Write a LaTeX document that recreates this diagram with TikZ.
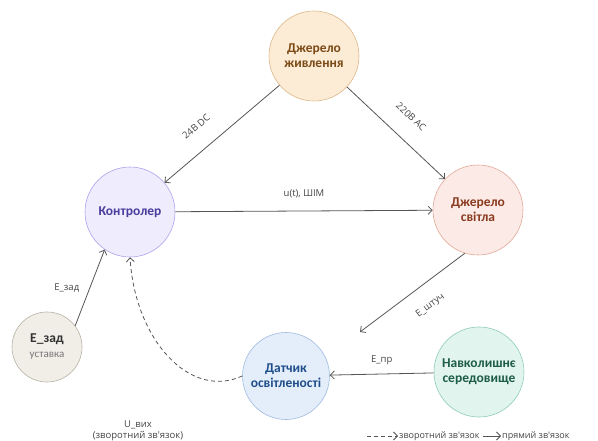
\documentclass[tikz,border=0pt]{standalone}
\usepackage{fontspec}
\setmainfont{Carlito}
\newfontfamily\lblfont{Open Sans}
\usetikzlibrary{arrows.meta}

\definecolor{powfill}{HTML}{FCEBD5}
\definecolor{powline}{HTML}{DDB888}
\definecolor{powtext}{HTML}{7B4A17}
\definecolor{ctlfill}{HTML}{EEECFD}
\definecolor{ctlline}{HTML}{ABA4EE}
\definecolor{ctltext}{HTML}{4B3D9E}
\definecolor{litfill}{HTML}{FBEAE5}
\definecolor{litline}{HTML}{E3A898}
\definecolor{littext}{HTML}{8A3B20}
\definecolor{zadfill}{HTML}{F1EEE8}
\definecolor{zadline}{HTML}{B8B2A6}
\definecolor{zadtext}{HTML}{333333}
\definecolor{zadsub}{HTML}{777777}
\definecolor{senfill}{HTML}{E4EEFA}
\definecolor{senline}{HTML}{9EBAE0}
\definecolor{sentext}{HTML}{1F4E8A}
\definecolor{envfill}{HTML}{E2F4EE}
\definecolor{envline}{HTML}{8DCCB6}
\definecolor{envtext}{HTML}{1D5D47}
\definecolor{linegray}{HTML}{555555}
\definecolor{labelgray}{HTML}{444444}

\begin{document}
\begin{tikzpicture}[x=1pt,y=-1pt,
    state/.style={circle, draw, line width=0.6pt, minimum size=90pt, inner sep=0pt,
        align=center, font=\fontsize{13.5}{15}\selectfont\bfseries},
    link/.style={draw=linegray, line width=0.8pt, -{Straight Barb[length=4pt,width=8pt]}},
    lbl/.style={font=\lblfont\fontsize{9.5}{11}\selectfont, text=labelgray}]
    \useasboundingbox (0,0) rectangle (598,441);

    % Draw blocks
    \node[state, fill=powfill, draw=powline, text=powtext] (power) at (314,56) {Джерело\\живлення};
    \node[state, fill=ctlfill, draw=ctlline, text=ctltext] (ctrl) at (130,212) {Контролер};
    \node[state, fill=litfill, draw=litline, text=littext] (light) at (478,210) {Джерело\\світла};
    \node[state, minimum size=70pt, fill=zadfill, draw=zadline, text=zadtext] (ezad) at (47,347)
        {E\_зад\\{\mdseries\fontsize{11}{12}\selectfont\color{zadsub}уставка}};
    \node[state, minimum size=87pt, fill=senfill, draw=senline, text=sentext] (sensor) at (286,376) {Датчик\\освітленості};
    \node[state, fill=envfill, draw=envline, text=envtext] (env) at (479,372) {Навколишнє\\середовище};

    % Draw links
    \draw[link] (power) -- node[lbl, sloped, above=15pt, pos=0.6] {24В DC} (ctrl);
    \draw[link] (power) -- node[lbl, sloped, above=15pt] {220В AC} (light);
    \draw[link] (ctrl) -- node[lbl, above=9pt] {u(t), ШІМ} (light);
    \coordinate (hit) at (360,332);
    \draw[link] (light.253) -- node[lbl, sloped, below=13pt, pos=0.45] {E\_штуч} (hit);
    \draw[link] (env) -- node[lbl, above=6pt] {E\_пр} (sensor);
    \draw[link] (ezad.37) -- node[lbl, left=7pt] {E\_зад} (ctrl.236);

    % Feedback
    \draw[link, dash pattern=on 4pt off 3pt] (sensor.west) .. controls (190,400) and (135,340) .. (ctrl.south);
    \node[lbl, align=center] (fblbl) at (138,431) {U\_вих\\(зворотний зв'язок)};

    % Legend
    \coordinate (dasha) at (367,436);
    \coordinate (dashb) at (398,436);
    \coordinate (solida) at (483,436);
    \coordinate (solidb) at (501,436);
    \draw[link, dash pattern=on 4pt off 3pt] (dasha) -- (dashb);
    \node[lbl, anchor=west, inner sep=1pt, font=\lblfont\fontsize{9}{11}\selectfont] (dashtxt) at (dashb) {зворотний зв'язок};
    \draw[link] (solida) -- (solidb);
    \node[lbl, anchor=west, inner sep=1pt, font=\lblfont\fontsize{9}{11}\selectfont] (solidtxt) at (solidb) {прямий зв'язок};
\end{tikzpicture}
\end{document}
